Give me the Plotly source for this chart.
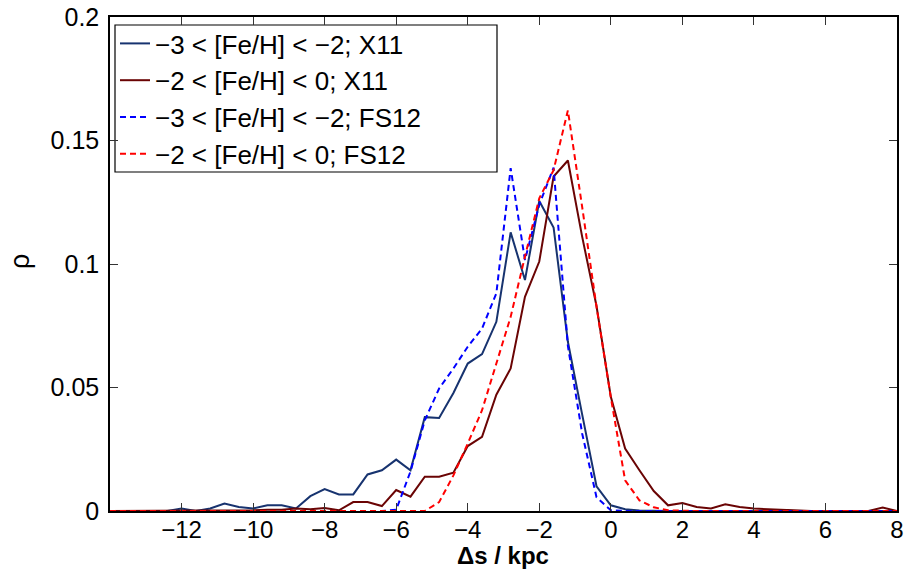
import plotly.graph_objects as go

# Bin centres (kpc)
ds = [-14.0, -13.6, -13.2, -12.8, -12.4, -12.0, -11.6, -11.2, -10.8, -10.4,
      -10.0, -9.6, -9.2, -8.8, -8.4, -8.0, -7.6, -7.2, -6.8, -6.4,
      -6.0, -5.6, -5.2, -4.8, -4.4, -4.0, -3.6, -3.2, -2.8, -2.4,
      -2.0, -1.6, -1.2, -0.8, -0.4, 0.0, 0.4, 0.8, 1.2, 1.6,
      2.0, 2.4, 2.8, 3.2, 3.6, 4.0, 4.4, 4.8, 5.2, 5.6,
      6.0, 6.4, 6.8, 7.2, 7.6, 8.0]

x11_metal_poor = [0, 0, 0, 0, 0, 0.001, 0, 0.001, 0.003, 0.0016,
                  0.001, 0.0023, 0.0023, 0.001, 0.006, 0.0089, 0.0067, 0.0067, 0.0148, 0.0165,
                  0.0208, 0.0165, 0.038, 0.0377, 0.0478, 0.0597, 0.0635, 0.0766, 0.1128, 0.0935,
                  0.1255, 0.1148, 0.0685, 0.039, 0.010, 0.0023, 0.0007, 0.0002, 0, 0,
                  0, 0, 0, 0, 0, 0, 0, 0, 0, 0,
                  0, 0, 0, 0, 0, 0]

x11_metal_rich = [0, 0, 0, 0, 0, 0, 0, 0, 0, 0,
                  0.0003, 0.0005, 0.0005, 0.001, 0.0007, 0.0012, 0.0003, 0.0036, 0.0036, 0.002,
                  0.0085, 0.0058, 0.0139, 0.0139, 0.0155, 0.0263, 0.030, 0.0471, 0.0577, 0.0867,
                  0.101, 0.1354, 0.1419, 0.111, 0.083, 0.0462, 0.0253, 0.0165, 0.0081, 0.0023,
                  0.0032, 0.0016, 0.001, 0.0027, 0.0016, 0.001, 0.0007, 0.0003, 0, 0,
                  0, 0, 0, 0, 0.0014, 0]

fs12_metal_poor = [0, 0, 0, 0, 0, 0, 0, 0, 0, 0,
                   0, 0, 0, 0, 0, 0, 0, 0, 0, 0,
                   0.0005, 0.016, 0.0367, 0.0496, 0.0577, 0.0665, 0.0739, 0.0881, 0.1388, 0.1016,
                   0.124, 0.139, 0.0668, 0.0313, 0.0056, 0.0003, 0, 0, 0, 0,
                   0, 0, 0, 0, 0, 0, 0, 0, 0, 0,
                   0, 0, 0, 0, 0, 0]

fs12_metal_rich = [0, 0, 0, 0, 0, 0, 0, 0, 0, 0,
                   0, 0, 0, 0, 0, 0, 0, 0, 0, 0,
                   0, 0, 0, 0.0036, 0.0144, 0.0273, 0.0408, 0.0597, 0.0786, 0.103,
                   0.1266, 0.138, 0.1622, 0.123, 0.0827, 0.046, 0.0124, 0.0043, 0.0015, 0.0003,
                   0, 0, 0, 0, 0, 0, 0, 0, 0, 0,
                   0, 0, 0, 0, 0, 0]

labels = ["\u22123 < [Fe/H] < \u22122; X11",
          "\u22122 < [Fe/H] < 0; X11",
          "\u22123 < [Fe/H] < \u22122; FS12",
          "\u22122 < [Fe/H] < 0; FS12"]

x_ticks = [-12, -10, -8, -6, -4, -2, 0, 2, 4, 6, 8]
y_ticks = [0, 0.05, 0.1, 0.15, 0.2]
y_tick_text = ["0", "0.05", "0.1", "0.15", "0.2"]

FONT = "Liberation Sans, Arial, Helvetica, sans-serif"

fig = go.Figure()
fig.add_trace(go.Scatter(x=ds, y=x11_metal_poor, mode="lines", name=labels[0],
                         line=dict(color="#17336f", width=2)))
fig.add_trace(go.Scatter(x=ds, y=x11_metal_rich, mode="lines", name=labels[1],
                         line=dict(color="#6a0404", width=2)))
fig.add_trace(go.Scatter(x=ds, y=fs12_metal_poor, mode="lines", name=labels[2],
                         line=dict(color="#0000ff", width=2, dash="6px,4px")))
fig.add_trace(go.Scatter(x=ds, y=fs12_metal_rich, mode="lines", name=labels[3],
                         line=dict(color="#ff0000", width=2, dash="6px,4px")))

W, H = 906, 570
ml, mr, mt, mb = 110, 9, 17, 59
pw, ph = W - ml - mr, H - mt - mb


def px_x(p):
    return (p - ml) / pw


def px_y(p):
    return (H - mb - p) / ph


fig.update_layout(
    width=W, height=H,
    margin=dict(l=ml, r=mr, t=mt, b=mb, pad=0, autoexpand=False),
    paper_bgcolor="white", plot_bgcolor="white",
    font=dict(family=FONT, size=25, color="black"),
    showlegend=True,
    legend=dict(
        x=px_x(115), y=px_y(20), xanchor="left", yanchor="top",
        bgcolor="rgba(0,0,0,0)", borderwidth=0,
        font=dict(family=FONT, size=26, color="black"),
        itemwidth=30, tracegroupgap=0,
    ),
    shapes=[dict(type="rect", xref="paper", yref="paper",
                 x0=px_x(115), x1=px_x(497), y0=px_y(172), y1=px_y(25),
                 line=dict(color="black", width=1.2), fillcolor="white", layer="below")],
    annotations=[
        dict(text="\u03c1", xref="paper", yref="paper", x=px_x(20), y=px_y(262),
             xanchor="center", yanchor="middle", showarrow=False, textangle=-90,
             font=dict(family=FONT, size=27, color="black")),
        dict(text="<b>\u0394s / kpc</b>", xref="paper", yref="paper", x=px_x(503), y=px_y(555),
             xanchor="center", yanchor="middle", showarrow=False,
             font=dict(family=FONT, size=24, color="black")),
    ],
)

fig.update_xaxes(
    range=[-14, 8], tickvals=x_ticks, ticks="inside", ticklen=8, tickwidth=1,
    tickcolor="#333333", showline=True, linecolor="black", linewidth=1.5,
    mirror="ticks", showgrid=False, zeroline=False, ticklabelstandoff=-4,
    automargin=False,
    tickfont=dict(family=FONT, size=24, color="black"),
)
fig.update_yaxes(
    range=[0, 0.2], tickvals=y_ticks, ticktext=y_tick_text, ticks="inside", ticklen=8,
    tickwidth=1, tickcolor="#333333", showline=True, linecolor="black", linewidth=1.5,
    mirror="ticks", showgrid=False, zeroline=False, ticklabelstandoff=4,
    automargin=False,
    tickfont=dict(family=FONT, size=25, color="black"),
)

fig.write_html("out.html")
